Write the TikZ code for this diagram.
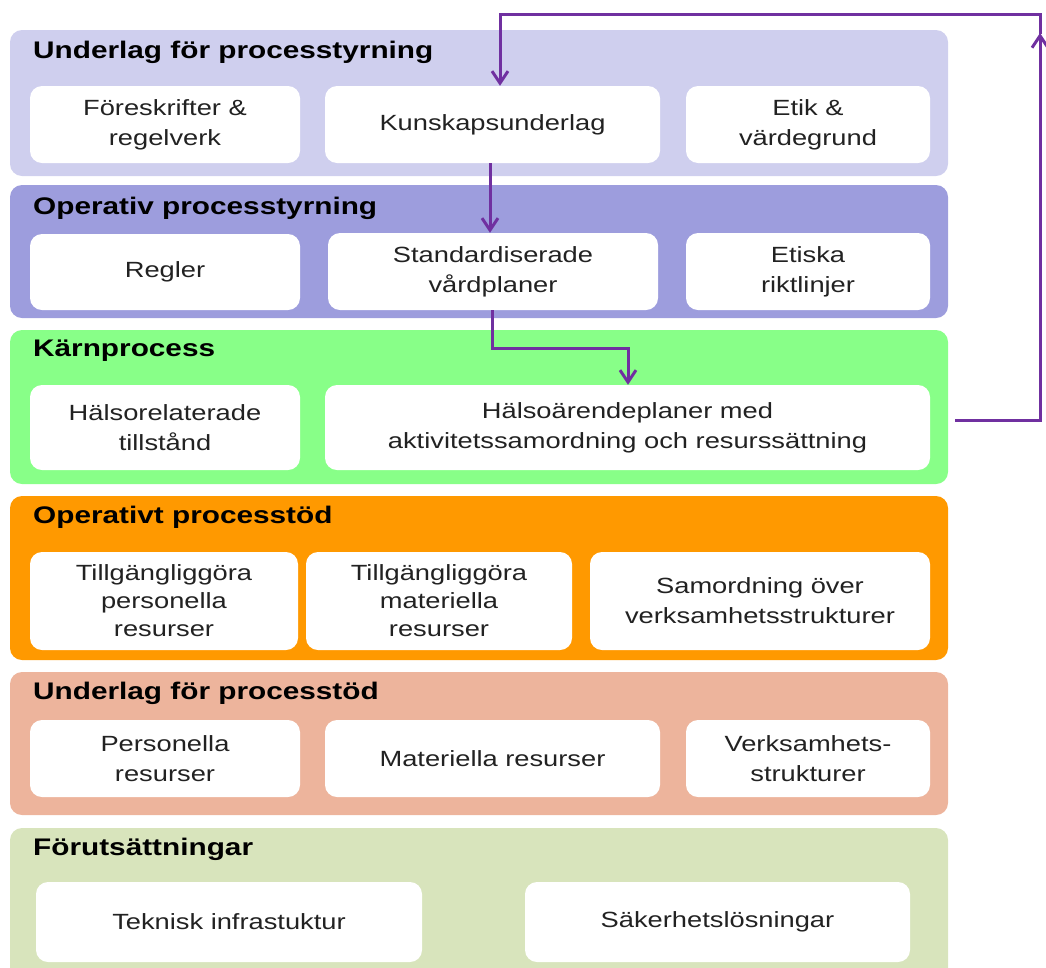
\documentclass[tikz,border=0pt]{standalone}
\usepackage{fontspec}
\setmainfont{Liberation Sans}[FakeStretch=1.24]
\usetikzlibrary{arrows.meta}

\definecolor{lav}{HTML}{CFCFEE}
\definecolor{vio}{HTML}{9D9DDD}
\definecolor{grn}{HTML}{88FF88}
\definecolor{org}{HTML}{FF9900}
\definecolor{sal}{HTML}{EDB49C}
\definecolor{oli}{HTML}{D8E4BC}
\definecolor{pur}{HTML}{7030A0}
\definecolor{txt}{HTML}{222222}

\tikzset{
  panel/.style={rounded corners=12pt},
  title/.style={anchor=west, inner sep=0pt, font=\fontsize{24}{28}\selectfont\bfseries},
  box/.style={fill=white, rounded corners=12pt, align=center, text=txt,
    font=\fontsize{22}{30}\selectfont},
  arr/.style={pur, line width=3pt, -{Straight Barb[length=12pt,width=16pt]}},
}

\begin{document}
\begin{tikzpicture}[x=1pt,y=-1pt]
\useasboundingbox (0,0) rectangle (1046,967);

% bands
\fill[panel,lav] (10,30) rectangle (948,176);
\fill[panel,vio] (10,185) rectangle (948,318);
\fill[panel,grn] (10,330) rectangle (948,484);
\fill[panel,org] (10,496) rectangle (948,660);
\fill[panel,sal] (10,672) rectangle (948,815);
\fill[panel,oli] (10,828) rectangle (948,980);

\node[title] (t1) at (33,52) {Underlag för processtyrning};
\node[title] (t2) at (33,208) {Operativ processtyrning};
\node[title] (t3) at (33,351) {Kärnprocess};
\node[title] (t4) at (33,517) {Operativt processtöd};
\node[title] (t5) at (33,693) {Underlag för processtöd};
\node[title] (t6) at (33,849) {Förutsättningar};

% row 1
\node[box, minimum width=270pt, minimum height=77pt] (fore) at (165,124.5) {Föreskrifter \&\\regelverk};
\node[box, minimum width=335pt, minimum height=77pt] (kun) at (492.5,124.5) {Kunskapsunderlag};
\node[box, minimum width=244pt, minimum height=77pt] (etik) at (808,124.5) {Etik \&\\värdegrund};

% row 2
\node[box, minimum width=270pt, minimum height=76pt] (regl) at (165,272) {Regler};
\node[box, minimum width=330pt, minimum height=77pt] (std) at (493,271.5) {Standardiserade\\vårdplaner};
\node[box, minimum width=244pt, minimum height=77pt] (etr) at (808,271.5) {Etiska\\riktlinjer};

% row 3
\node[box, minimum width=270pt, minimum height=85pt] (hals) at (165,427.5) {Hälsorelaterade\\tillstånd};
\node[box, minimum width=605pt, minimum height=85pt] (hep) at (627.5,427.5) {Hälsoärendeplaner med\\aktivitetssamordning och resurssättning};

% row 4
\node[box, minimum width=268pt, minimum height=98pt, font=\fontsize{22}{28}\selectfont] (tpers) at (164,601) {Tillgängliggöra\\personella\\resurser};
\node[box, minimum width=266pt, minimum height=98pt, font=\fontsize{22}{28}\selectfont] (tmat) at (439,601) {Tillgängliggöra\\materiella\\resurser};
\node[box, minimum width=340pt, minimum height=98pt] (samo) at (760,601) {Samordning över\\verksamhetsstrukturer};

% row 5
\node[box, minimum width=270pt, minimum height=77pt] (pers) at (165,758.5) {Personella\\resurser};
\node[box, minimum width=335pt, minimum height=77pt] (mat) at (492.5,758.5) {Materiella resurser};
\node[box, minimum width=244pt, minimum height=77pt] (verk) at (808,758.5) {Verksamhets-\\strukturer};

% row 6
\node[box, minimum width=386pt, minimum height=80pt] (tek) at (229,922) {Teknisk infrastuktur};
\node[box, minimum width=385pt, minimum height=80pt] (sak) at (717.5,922) {Säkerhetslösningar};

% flows
\draw[arr] (kun.south -| 490,0) -- (std.north -| 490,0);
\draw[arr] (std.south -| 492,0) -- (492,348) -| (hep.north -| 628,0);
\draw[arr] (hep.east) ++(25,-7) coordinate (fb) -- (1040,420.5) -- (1040,33);
\draw[arr] (1040,34) -- (1040,14) -| (kun.north -| 500,0);
\end{tikzpicture}
\end{document}
